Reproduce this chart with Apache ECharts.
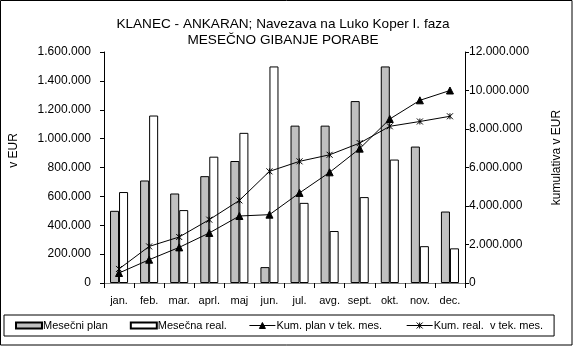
<!DOCTYPE html>
<html>
<head>
<meta charset="utf-8">
<script src="https://cdn.jsdelivr.net/npm/echarts@6/dist/echarts.min.js"></script>
<style>
  html, body { margin: 0; padding: 0; background: #fff; }
  #chart { width: 573px; height: 346px; }
</style>
</head>
<body>
<div id="chart"></div>
<script>
// Months of the year
const months = ['jan.', 'feb.', 'mar.', 'aprl.', 'maj', 'jun.', 'jul.', 'avg.', 'sept.', 'okt.', 'nov.', 'dec.'];

// Monthly planned and realised spending (EUR)
const mesecniPlan = [500000, 710000, 620000, 740000, 845000, 110000, 1090000, 1090000, 1260000, 1500000, 945000, 495000];
const mesecnaReal = [630000, 1160000, 505000, 875000, 1040000, 1500000, 555000, 360000, 595000, 855000, 255000, 240000];

// Cumulative totals up to the current month (EUR)
const kumPlan = [520000, 1210000, 1850000, 2600000, 3480000, 3550000, 4680000, 5750000, 6980000, 8520000, 9490000, 10000000];
const kumReal = [730000, 1900000, 2390000, 3290000, 4290000, 5800000, 6320000, 6660000, 7270000, 8140000, 8390000, 8660000];

// Axis ranges
const leftMax = 1600000, leftStep = 200000;
const rightMax = 12000000, rightStep = 2000000;

const FONT = '"Liberation Sans", Arial, sans-serif';

// Thousands separated with dots: 1.600.000
function fmt(v) {
  return String(Math.round(v)).replace(/\B(?=(\d{3})+(?!\d))/g, '.');
}

// Marker shapes: star (x with a vertical stroke) for points, line + marker for legend
const starPath = 'path://M0,0L10,10M10,0L0,10M5,0L5,10';
const legendTriangle = 'path://M0,3L26,3M10,6L13,0L16,6Z';
const legendStar = 'path://M0,3L26,3M10,0L16,6M16,0L10,6M13,0L13,6';

const chart = echarts.init(document.getElementById('chart'), null, { renderer: 'canvas' });

chart.setOption({
  backgroundColor: '#ffffff',
  animation: false,
  textStyle: { fontFamily: FONT, color: '#000' },
  title: {
    text: 'KLANEC - ANKARAN; Navezava na Luko Koper I. faza\nMESEČNO GIBANJE PORABE',
    left: 278, top: 11, textAlign: 'center',
    textStyle: { fontFamily: FONT, fontSize: 13.6, fontWeight: 'normal', color: '#000', lineHeight: 16 }
  },
  grid: { left: 104, right: 108, top: 52, bottom: 63, containLabel: false },
  legend: {
    left: 4, top: 315,
    width: 557,
    padding: [5, 11, 5, 11],
    borderColor: '#000', borderWidth: 1,
    itemWidth: 26, itemHeight: 6, itemGap: 22,
    textStyle: { fontFamily: FONT, fontSize: 11, color: '#000', padding: [0, 0, 0, -4] },
    data: [
      { name: 'Mesečni plan', icon: 'rect' },
      { name: 'Mesečna real.', icon: 'rect' },
      { name: 'Kum. plan v tek. mes.', icon: legendTriangle,
        itemStyle: { color: '#000', borderColor: '#000', borderWidth: 1 } },
      { name: 'Kum. real.  v tek. mes.', icon: legendStar,
        itemStyle: { color: 'none', borderColor: '#000', borderWidth: 1 } }
    ]
  },
  xAxis: [
    {
      type: 'category', data: months, boundaryGap: true,
      axisLine: { lineStyle: { color: '#000', width: 1 } },
      axisTick: { show: true, length: 5, lineStyle: { color: '#000' } },
      axisLabel: { fontFamily: FONT, fontSize: 11, color: '#000', margin: 12, interval: 0 },
      splitLine: { show: false }
    },
    {
      type: 'category', data: months, position: 'top',
      axisLine: { lineStyle: { color: '#808080', width: 1 } },
      axisTick: { show: false }, axisLabel: { show: false }, splitLine: { show: false }
    }
  ],
  yAxis: [
    {
      type: 'value', min: 0, max: leftMax, interval: leftStep, position: 'left',
      axisLine: { show: true, lineStyle: { color: '#000' } },
      axisTick: { show: true, length: 4, inside: false, lineStyle: { color: '#000' } },
      axisLabel: { fontFamily: FONT, fontSize: 12, color: '#000', margin: 13, formatter: fmt },
      splitLine: { show: false },
      name: 'v EUR', nameLocation: 'middle', nameRotate: 90, nameGap: 84,
      nameTextStyle: { fontFamily: FONT, fontSize: 12, color: '#000', padding: [0, 0, 0, 34] }
    },
    {
      type: 'value', min: 0, max: rightMax, interval: rightStep, position: 'right',
      axisLine: { show: true, lineStyle: { color: '#000' } },
      axisTick: { show: true, length: 4, inside: false, lineStyle: { color: '#000' } },
      axisLabel: { fontFamily: FONT, fontSize: 12, color: '#000', margin: 4, formatter: fmt },
      splitLine: { show: false },
      name: 'kumulativa v EUR', nameLocation: 'middle', nameRotate: 90, nameGap: 86,
      nameTextStyle: { fontFamily: FONT, fontSize: 12, color: '#000', padding: [0, 0, 0, 20] }
    }
  ],
  series: [
    {
      name: 'Mesečni plan', type: 'bar', yAxisIndex: 0, data: mesecniPlan,
      barGap: '0%', barCategoryGap: '40%',
      itemStyle: { color: '#c0c0c0', borderColor: '#000', borderWidth: 1 }
    },
    {
      name: 'Mesečna real.', type: 'bar', yAxisIndex: 0, data: mesecnaReal,
      barGap: '0%', barCategoryGap: '40%',
      itemStyle: { color: '#ffffff', borderColor: '#000', borderWidth: 1 }
    },
    {
      name: 'Kum. plan v tek. mes.', type: 'line', yAxisIndex: 1, data: kumPlan,
      symbol: 'triangle', symbolSize: 7, showAllSymbol: true,
      lineStyle: { color: '#000', width: 1 },
      itemStyle: { color: '#000', borderColor: '#000', borderWidth: 1 }
    },
    {
      name: 'Kum. real.  v tek. mes.', type: 'line', yAxisIndex: 1, data: kumReal,
      symbol: starPath, symbolSize: 6, showAllSymbol: true,
      lineStyle: { color: '#000', width: 1 },
      itemStyle: { color: 'none', borderColor: '#000', borderWidth: 1 }
    }
  ],
  graphic: [
    {
      type: 'rect', silent: true, z: 100,
      shape: { x: 0.5, y: 0.5, width: 571.5, height: 344.5 },
      style: { fill: 'none', stroke: '#000', lineWidth: 1 }
    }
  ]
});
</script>
</body>
</html>
